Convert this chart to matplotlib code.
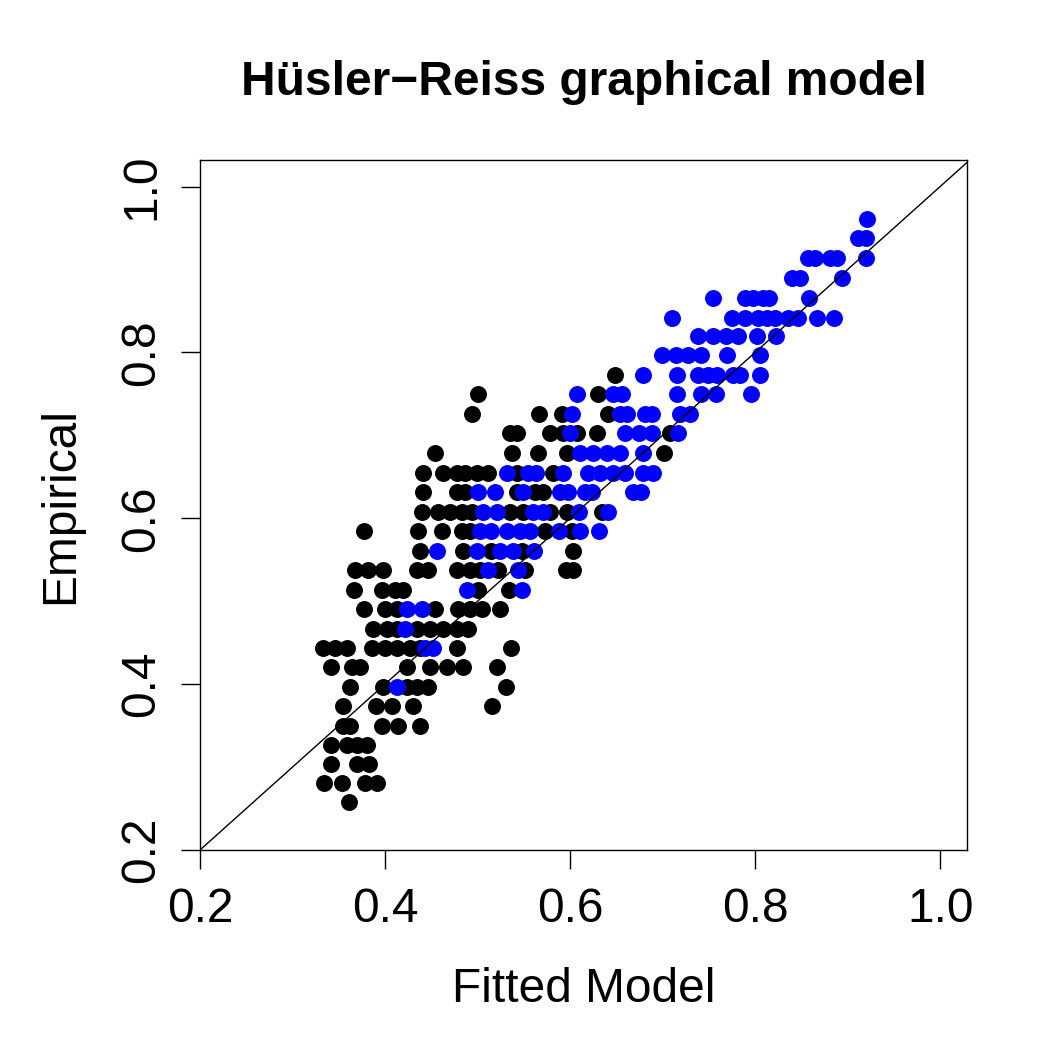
import matplotlib
matplotlib.use("Agg")
import matplotlib.pyplot as plt

plt.rcParams['font.family'] = ['Liberation Sans', 'DejaVu Sans']

# pairs (fitted, empirical), written row by row of the empirical value
black_fitted = [
    0.361,
    0.334, 0.354, 0.378, 0.391,
    0.342, 0.370, 0.383,
    0.342, 0.359, 0.370, 0.381,
    0.355, 0.362, 0.397, 0.414, 0.438,
    0.355, 0.390, 0.408, 0.430, 0.516,
    0.362, 0.398, 0.424, 0.435, 0.446, 0.531,
    0.342, 0.364, 0.373, 0.424, 0.449, 0.467, 0.484, 0.521,
    0.333, 0.346, 0.359, 0.386, 0.400, 0.413, 0.427, 0.438, 0.478, 0.536,
    0.387, 0.402, 0.413, 0.435, 0.449, 0.463, 0.478, 0.490,
    0.377, 0.400, 0.413, 0.454, 0.479, 0.492, 0.505, 0.524,
    0.366, 0.397, 0.411, 0.419, 0.501, 0.534,
    0.368, 0.382, 0.398, 0.435, 0.446, 0.478, 0.492, 0.503, 0.522, 0.551, 0.596, 0.603,
    0.438, 0.484, 0.514, 0.548, 0.603,
    0.377, 0.436, 0.462, 0.483, 0.492, 0.573, 0.602,
    0.440, 0.457, 0.470, 0.483, 0.494, 0.535, 0.549, 0.578, 0.597, 0.635,
    0.441, 0.478, 0.486, 0.543, 0.562, 0.571,
    0.441, 0.463, 0.478, 0.486, 0.499, 0.511, 0.543, 0.581,
    0.454, 0.537, 0.565, 0.597, 0.701,
    0.535, 0.543, 0.578, 0.592, 0.608, 0.629, 0.708,
    0.494, 0.566, 0.591, 0.641,
    0.501, 0.630,
    0.649,
]
black_empirical = (
    [0.258] * 1 + [0.281] * 4 + [0.304] * 3 + [0.327] * 4 + [0.350] * 5
    + [0.374] * 5 + [0.397] * 6 + [0.421] * 8 + [0.444] * 10 + [0.467] * 8
    + [0.491] * 8 + [0.514] * 6 + [0.538] * 12 + [0.561] * 5 + [0.585] * 7
    + [0.608] * 10 + [0.632] * 6 + [0.655] * 8 + [0.679] * 5 + [0.703] * 7
    + [0.726] * 4 + [0.750] * 2 + [0.773] * 1
)

blue_fitted = [
    0.413,
    0.443, 0.452,
    0.422,
    0.424, 0.440,
    0.489, 0.548,
    0.511, 0.544,
    0.456, 0.499, 0.524, 0.538, 0.561,
    0.503, 0.514, 0.532, 0.546, 0.557, 0.588, 0.611, 0.631,
    0.506, 0.521, 0.560, 0.571, 0.610, 0.641,
    0.501, 0.519, 0.549, 0.589, 0.598, 0.616, 0.624, 0.668, 0.677,
    0.532, 0.555, 0.563, 0.592, 0.619, 0.632, 0.646, 0.659, 0.679, 0.690,
    0.611, 0.625, 0.640, 0.654, 0.679,
    0.600, 0.659, 0.674, 0.689, 0.717,
    0.602, 0.654, 0.662, 0.681, 0.689, 0.719, 0.730,
    0.608, 0.646, 0.656, 0.716, 0.741, 0.758, 0.796,
    0.679, 0.716, 0.738, 0.749, 0.759, 0.776, 0.784, 0.805,
    0.699, 0.714, 0.727, 0.741, 0.770, 0.805,
    0.738, 0.754, 0.768, 0.782, 0.802, 0.823,
    0.710, 0.775, 0.789, 0.803, 0.813, 0.822, 0.835, 0.846, 0.867, 0.885,
    0.755, 0.789, 0.798, 0.808, 0.815, 0.858,
    0.840, 0.849, 0.894,
    0.857, 0.865, 0.881, 0.889, 0.920,
    0.911, 0.920,
    0.921,
]
blue_empirical = (
    [0.397] * 1 + [0.444] * 2 + [0.467] * 1 + [0.491] * 2 + [0.514] * 2
    + [0.538] * 2 + [0.561] * 5 + [0.585] * 8 + [0.608] * 6 + [0.632] * 9
    + [0.655] * 10 + [0.679] * 5 + [0.703] * 5 + [0.726] * 7 + [0.750] * 7
    + [0.773] * 8 + [0.797] * 6 + [0.820] * 6 + [0.842] * 10 + [0.866] * 6
    + [0.890] * 3 + [0.914] * 5 + [0.938] * 2 + [0.961] * 1
)

ticks = [0.2, 0.4, 0.6, 0.8, 1.0]
tick_labels = ["0.2", "0.4", "0.6", "0.8", "1.0"]

fig = plt.figure(figsize=(10.5, 10.5), dpi=100)
ax = fig.add_axes([200 / 1050, 200 / 1050, 767 / 1050, 690 / 1050])

ax.plot(black_fitted, black_empirical, "o", color="black", ms=12.2, mew=0)
ax.plot(blue_fitted, blue_empirical, "o", color="blue", ms=12.2, mew=0)
ax.axline((0, 0), slope=1, color="black", lw=1)

ax.set_xlim(0.2, 1.029)
ax.set_ylim(0.2, 1.032)
ax.set_xticks(ticks)
ax.set_xticklabels(tick_labels)
ax.set_yticks(ticks)
ax.set_yticklabels(tick_labels, rotation=90, va="center")
ax.tick_params(direction="out", length=14, width=1, labelsize=34.5)
ax.tick_params(axis="x", pad=13)
ax.tick_params(axis="y", pad=12)
for sp in ax.spines.values():
    sp.set_linewidth(1)

ax.set_xlabel("Fitted Model", fontsize=34.5, labelpad=25)
ax.set_ylabel("Empirical", fontsize=34.5, labelpad=26)
ax.set_title("Hüsler\u2212Reiss graphical model", fontsize=34.5, fontweight="bold", pad=47)

fig.savefig("out.png", dpi=100)
